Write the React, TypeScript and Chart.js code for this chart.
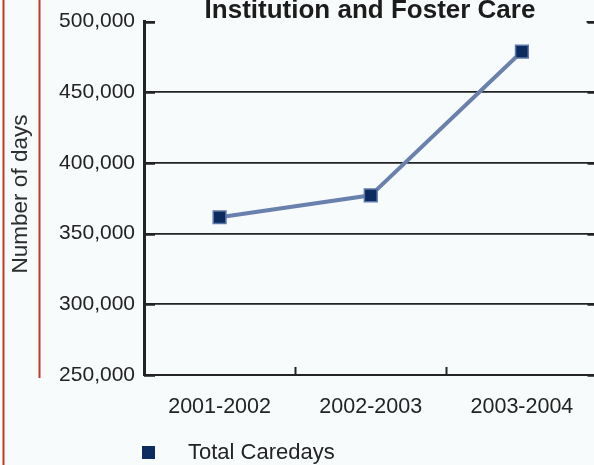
import React, { useEffect, useRef } from "react";
import { Chart, registerables } from "chart.js";

Chart.register(...registerables);

const categories = ["2001-2002", "2002-2003", "2003-2004"];
const totalCaredays = [361600, 377100, 478800];
const yTickValues = [250000, 300000, 350000, 400000, 450000, 500000];
const seriesLabel = "Total Caredays";
const chartTitle = "Institution and Foster Care";
const yAxisTitle = "Number of days";

const FONT = "'Liberation Sans', Arial, sans-serif";
const BG = "#f8fbfb";
const INK = "#232323";
const RED = "#c23b26";
const LINE = "#6a81ae";
const MARKER = "#0c2b5e";
const MARKER_EDGE = "#5d78a8";

const decor = {
  id: "decor",
  beforeDraw(chart: any) {
    const { ctx, width, height } = chart;
    ctx.save();
    ctx.fillStyle = BG;
    ctx.fillRect(0, 0, width, height);
    ctx.strokeStyle = RED;
    ctx.lineWidth = 2;
    ctx.beginPath();
    ctx.moveTo(3.5, 0);
    ctx.lineTo(3.5, height);
    ctx.moveTo(39.5, 0);
    ctx.lineTo(39.5, 378);
    ctx.stroke();
    // y axis title
    ctx.fillStyle = "#2e2e2e";
    ctx.font = `22.5px ${FONT}`;
    ctx.textAlign = "center";
    ctx.textBaseline = "middle";
    ctx.translate(21, 194);
    ctx.rotate(-Math.PI / 2);
    ctx.fillText(yAxisTitle, 0, 0);
    ctx.restore();
  },
  afterDraw(chart: any) {
    const { ctx, chartArea } = chart;
    const y = chart.scales.y;
    ctx.save();
    // title background + text
    ctx.fillStyle = BG;
    ctx.fillRect(chartArea.left + 11, 0, chartArea.right - chartArea.left - 22, 27);
    ctx.fillStyle = "#1c1c1c";
    ctx.font = `bold 26px ${FONT}`;
    ctx.textAlign = "center";
    ctx.textBaseline = "alphabetic";
    ctx.fillText(chartTitle, 370, 18);
    // stubs at both ends of each y tick
    ctx.strokeStyle = INK;
    ctx.lineWidth = 2.5;
    yTickValues.forEach((v) => {
      const py = Math.round(y.getPixelForValue(v)) + 0.5;
      ctx.beginPath();
      ctx.moveTo(chartArea.left, py);
      ctx.lineTo(chartArea.left + 11, py);
      ctx.moveTo(chartArea.right - 10, py);
      ctx.lineTo(chartArea.right, py);
      ctx.stroke();
    });
    // category boundary ticks
    ctx.lineWidth = 2;
    const w = (chartArea.right - chartArea.left) / categories.length;
    for (let i = 1; i < categories.length; i++) {
      const px = Math.round(chartArea.left + i * w) + 0.5;
      ctx.beginPath();
      ctx.moveTo(px, chartArea.bottom);
      ctx.lineTo(px, chartArea.bottom - 8);
      ctx.stroke();
    }
    // legend
    ctx.fillStyle = MARKER;
    ctx.fillRect(142, 446, 13, 13);
    ctx.fillStyle = INK;
    ctx.font = `22px ${FONT}`;
    ctx.textAlign = "left";
    ctx.textBaseline = "middle";
    ctx.fillText(seriesLabel, 188, 453);
    ctx.restore();
  },
};

export default function App() {
  const ref = useRef<HTMLCanvasElement | null>(null);

  useEffect(() => {
    if (!ref.current) return;
    const chart = new Chart(ref.current, {
      type: "line",
      data: {
        labels: categories,
        datasets: [
          {
            label: seriesLabel,
            data: totalCaredays,
            borderColor: LINE,
            borderWidth: 4,
            tension: 0,
            pointStyle: "rect",
            pointRadius: 9,
            pointBackgroundColor: MARKER,
            pointBorderColor: MARKER_EDGE,
            pointBorderWidth: 1.5,
          },
        ],
      },
      options: {
        responsive: false,
        animation: false,
        layout: { padding: { top: 21, right: 3, left: 0, bottom: 0 } },
        plugins: {
          legend: { display: false },
          title: { display: false },
          tooltip: { enabled: false },
        },
        scales: {
          x: {
            type: "category",
            offset: true,
            grid: { display: false, drawTicks: false },
            border: { display: true, color: INK, width: 2 },
            ticks: {
              color: INK,
              font: { family: FONT, size: 21.5 },
              padding: 19,
              maxRotation: 0,
              autoSkip: false,
            },
            afterFit: (s: any) => {
              s.height = 90;
            },
          },
          y: {
            min: 250000,
            max: 500000,
            grid: {
              color: INK,
              lineWidth: 1.8,
              drawTicks: false,
            },
            border: { display: true, color: INK, width: 3 },
            ticks: {
              stepSize: 50000,
              color: INK,
              font: { family: FONT, size: 21 },
              padding: 9,
              callback: (v: any) => Number(v).toLocaleString("en-US"),
            },
            title: { display: false },
            afterFit: (s: any) => {
              s.width = 144;
            },
          },
        },
      },
      plugins: [decor],
    });
    return () => chart.destroy();
  }, []);

  return (
    <div
      style={{
        position: "fixed",
        left: 0,
        top: 0,
        width: 594,
        height: 465,
        overflow: "hidden",
        background: BG,
      }}
    >
      <canvas
        ref={ref}
        width={608}
        height={465}
        style={{ display: "block", width: 608, height: 465 }}
      />
    </div>
  );
}
